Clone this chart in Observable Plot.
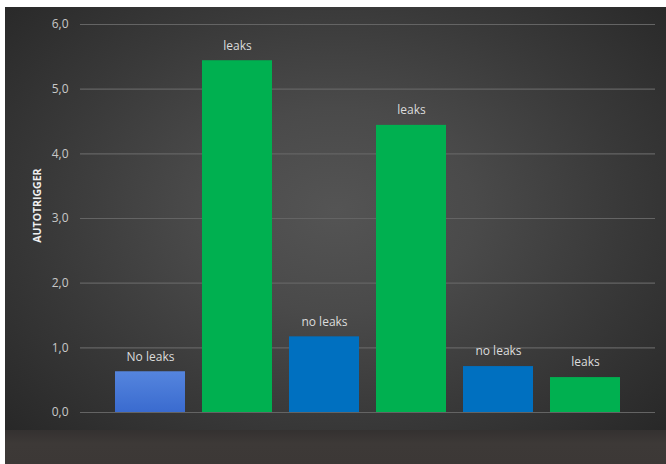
<!DOCTYPE html>
<html>
<head>
<meta charset="utf-8">
<script src="https://cdn.jsdelivr.net/npm/d3@7"></script>
<script src="https://cdn.jsdelivr.net/npm/@observablehq/plot@0.6"></script>
<style>
  html, body { margin: 0; padding: 0; background: #ffffff; width: 666px; height: 464px; overflow: hidden; }
  #bg { position: absolute; left: 5px; top: 7px; width: 661px; height: 423px;
        background: radial-gradient(ellipse 70% 80% at 50% 48%, #545454 0%, #4a4a4a 30%, #393939 62%, #262626 100%); }
  #strip { position: absolute; left: 5px; top: 430px; width: 661px; height: 34px;
        background: linear-gradient(#343130, #3d3937 40%, #3c3836); }
  #chart { position: absolute; left: 5px; top: 7px; }
  #chart svg { background: transparent; }
</style>
</head>
<body>
<div id="bg"></div>
<div id="strip"></div>
<div id="chart"></div>
<script>
const categories = ["1", "2", "3", "4", "5", "6"];
const labels = ["No leaks", "leaks", "no leaks", "leaks", "no leaks", "leaks"];
const values = [0.63, 5.44, 1.17, 4.44, 0.71, 0.54];
const colors = ["url(#blueGrad)", "#00b050", "#0070c0", "#00b050", "#0070c0", "#00b050"];
const yTicks = [0, 1, 2, 3, 4, 5, 6];
const yTitle = "AUTOTRIGGER";

const data = categories.map((c, i) => ({ cat: c, label: labels[i], value: values[i], color: colors[i] }));
const fmt = v => v.toFixed(1).replace(".", ",");

const defs = () => {
  const d = d3.create("svg:defs");
  const g = d.append("linearGradient").attr("id", "blueGrad").attr("x1", 0).attr("y1", 0).attr("x2", 0).attr("y2", 1);
  g.append("stop").attr("offset", "0%").attr("stop-color", "#5585de");
  g.append("stop").attr("offset", "100%").attr("stop-color", "#3a6bcf");
  return d.node();
};

const chart = Plot.plot({
  width: 661,
  height: 423,
  marginTop: 17,
  marginBottom: 18,
  marginLeft: 101,
  marginRight: 38,
  style: { background: "transparent", fontFamily: "'Open Sans', sans-serif", overflow: "visible" },
  x: { domain: categories, paddingInner: 0.2, paddingOuter: 0.1, axis: null },
  y: { domain: [0, 6], ticks: yTicks, tickFormat: fmt, label: null },
  marks: [
    defs,
    Plot.ruleY(yTicks, { stroke: "#646464", strokeWidth: 1.2, insetLeft: -26, insetRight: -27 }),
    Plot.axisY({ ticks: yTicks, tickFormat: fmt, tickSize: 0, tickPadding: 38, fill: "#c8c8c8", fontSize: 12, label: null }),
    Plot.barY(data, { x: "cat", y: "value", fill: { value: "color", scale: null } }),
    Plot.text(data, { x: "cat", y: "value", text: "label", dy: -15, lineAnchor: "middle", fill: "#dcdcdc", fontSize: 12 }),
    Plot.text([yTitle], { frameAnchor: "left", y: 3.2, dx: -69, rotate: -90, text: d => d, fill: "#f0f0f0", fontSize: 10.5, fontWeight: "bold", lineAnchor: "middle", textAnchor: "middle" })
  ]
});
document.getElementById("chart").appendChild(chart);
</script>
</body>
</html>
